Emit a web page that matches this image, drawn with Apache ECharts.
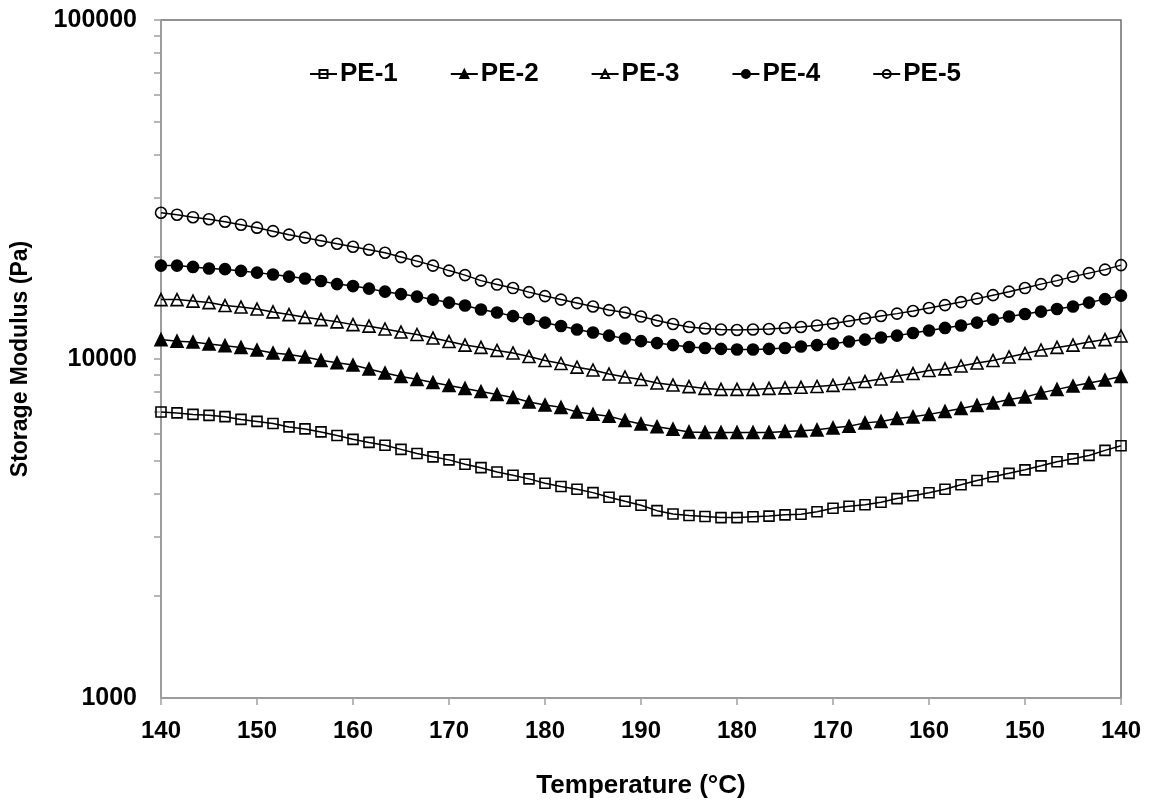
<!DOCTYPE html>
<html>
<head>
<meta charset="utf-8">
<script src="https://cdn.jsdelivr.net/npm/echarts@6/dist/echarts.min.js"></script>
<style>html,body{margin:0;padding:0;background:#fff}#chart{width:1150px;height:804px}</style>
</head>
<body>
<div id="chart"></div>
<script>
// Temperature sequence: heating 140 -> 190 then cooling 190 -> 140
const temperatures = [
  '140','141.7','143.3','145','146.7','148.3','150','151.7','153.3','155','156.7','158.3','160','161.7','163.3','165','166.7','168.3','170','171.7','173.3','175','176.7','178.3','180','181.7','183.3','185','186.7','188.3','190',
  '188.3','186.7','185','183.3','181.7','180','178.3','176.7','175','173.3','171.7','170','168.3','166.7','165','163.3','161.7','160','158.3','156.7','155','153.3','151.7','150','148.3','146.7','145','143.3','141.7','140'
];
const yTickValues = [1000,2000,3000,4000,5000,6000,7000,8000,9000,10000,20000,30000,40000,50000,60000,70000,80000,90000,100000];
const seriesNames = ['PE-1','PE-2','PE-3','PE-4','PE-5'];

const pe1 = [6980,6935,6865,6820,6760,6635,6545,6455,6305,6220,6095,5950,5794,5675,5565,5413,5265,5145,5040,4890,4780,4640,4540,4430,4300,4205,4127,4035,3910,3805,3705,3570,3490,3455,3430,3405,3405,3425,3440,3470,3485,3545,3630,3680,3715,3780,3875,3950,4030,4127,4255,4380,4495,4600,4710,4840,4975,5075,5195,5375,5550];
const pe2 = [11410,11290,11220,11070,10950,10820,10630,10420,10310,10140,9910,9745,9600,9345,9095,8880,8710,8525,8350,8190,8020,7860,7700,7470,7320,7200,6980,6870,6780,6590,6435,6315,6210,6095,6075,6075,6075,6075,6075,6115,6140,6180,6265,6335,6480,6545,6680,6750,6865,7005,7150,7300,7420,7600,7730,7945,8135,8325,8495,8670,8880];
const pe3 = [14970,14970,14820,14670,14380,14230,14040,13770,13520,13270,13070,12870,12630,12500,12260,12010,11810,11530,11260,10990,10820,10600,10420,10170,9900,9700,9460,9280,9030,8850,8700,8500,8380,8290,8190,8135,8135,8135,8190,8220,8250,8300,8360,8470,8580,8730,8910,9060,9250,9350,9535,9730,9900,10140,10380,10630,10820,10990,11220,11410,11690];
const pe4 = [18860,18860,18690,18500,18410,18190,17980,17760,17500,17270,16980,16630,16410,16130,15800,15540,15280,14970,14670,14380,13990,13710,13380,13110,12800,12510,12220,11970,11720,11490,11290,11140,10990,10850,10780,10710,10670,10670,10710,10780,10890,10990,11100,11260,11410,11570,11720,11930,12140,12350,12560,12800,13070,13340,13570,13800,14040,14280,14670,15020,15380];
const pe5 = [27000,26650,26200,25850,25410,24900,24400,23830,23270,22800,22340,21880,21440,21010,20580,19980,19440,18860,18230,17680,17030,16580,16190,15750,15330,14970,14620,14280,13940,13710,13340,12980,12680,12430,12300,12220,12180,12220,12260,12340,12430,12560,12720,12940,13160,13390,13610,13850,14140,14420,14720,15070,15430,15800,16190,16630,17030,17500,17920,18350,18920];

const FONT = "'Liberation Sans', Arial, sans-serif";
const HOLLOW = 'rgba(255,255,255,0)';
const styles = [
  {symbol:'rect', size:10, fill:HOLLOW},
  {symbol:'triangle', size:12, fill:'#000'},
  {symbol:'triangle', size:12, fill:HOLLOW},
  {symbol:'circle', size:11, fill:'#000'},
  {symbol:'circle', size:11, fill:HOLLOW}
];
const dataSets = [pe1, pe2, pe3, pe4, pe5];

const chart = echarts.init(document.getElementById('chart'), null, {renderer:'canvas'});
chart.setOption({
  animation:false,
  backgroundColor:'#fff',
  textStyle:{fontFamily:FONT},
  grid:{left:161, right:29, top:20, bottom:105, show:true, borderColor:'#6e6e6e', borderWidth:1.5, backgroundColor:'transparent'},
  legend:{
    left:304, top:56, itemWidth:27, itemHeight:10, itemGap:52,
    textStyle:{fontFamily:FONT, fontWeight:'bold', fontSize:26, color:'#000', padding:[0,0,0,-2]},
    data:seriesNames
  },
  xAxis:{
    type:'category', data:temperatures, boundaryGap:false,
    axisLine:{lineStyle:{color:'#a0a0a0', width:1.5}},
    axisTick:{show:true, interval:5, length:7, lineStyle:{color:'#a0a0a0', width:1.5}},
    axisLabel:{interval:5, margin:21, fontFamily:FONT, fontWeight:'bold', fontSize:24, color:'#000'},
    splitLine:{show:false},
    name:'Temperature (°C)', nameLocation:'middle', nameGap:75,
    nameTextStyle:{fontFamily:FONT, fontWeight:'bold', fontSize:26, color:'#000'}
  },
  yAxis:{
    type:'log', logBase:10, min:1000, max:100000,
    axisLine:{show:true, lineStyle:{color:'#a0a0a0', width:1.5}},
    axisTick:{show:true, length:7, customValues:yTickValues, lineStyle:{color:'#a0a0a0', width:1.5}},
    axisLabel:{margin:24, fontFamily:FONT, fontWeight:'bold', fontSize:25, color:'#000', formatter:function(v){return String(v);}},
    splitLine:{show:false},
    name:'Storage Modulus (Pa)', nameLocation:'middle', nameGap:129,
    nameTextStyle:{fontFamily:FONT, fontWeight:'bold', fontSize:23, color:'#000'}
  },
  series: dataSets.map(function(d, i){
    return {
      name:seriesNames[i], type:'line', data:d,
      symbol:styles[i].symbol, symbolSize:styles[i].size, showAllSymbol:true,
      lineStyle:{color:'#000', width:1.5},
      itemStyle:{color:styles[i].fill, borderColor:'#000', borderWidth:1.6},
      emphasis:{disabled:true}
    };
  })
});
</script>
</body>
</html>
